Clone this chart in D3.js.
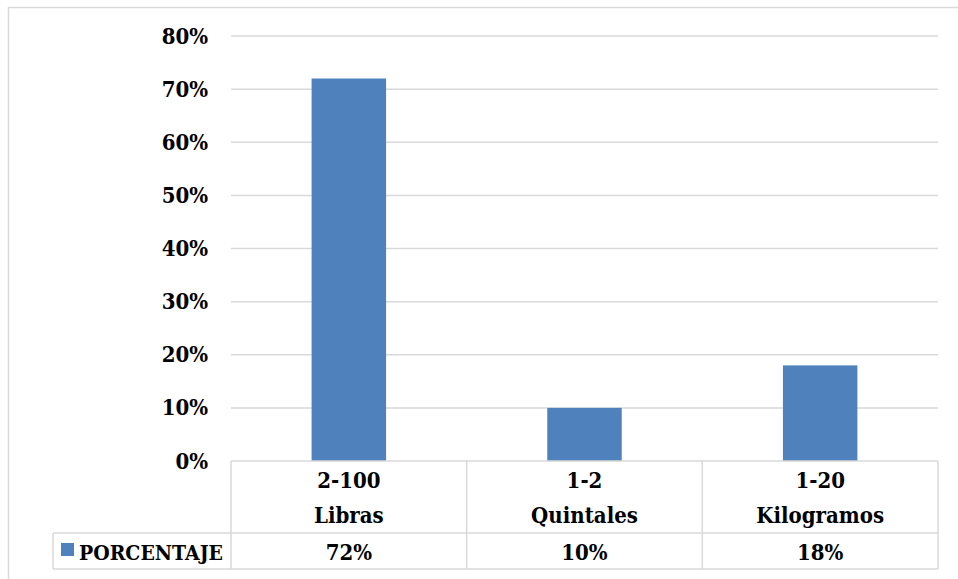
<!DOCTYPE html>
<html><head><meta charset="utf-8">
<script src="https://cdn.jsdelivr.net/npm/d3@7"></script>
<style>html,body{margin:0;padding:0;background:#fff;}svg{display:block;}</style>
</head><body>
<svg id="c" width="958" height="579"></svg>
<script>
const categories = [["2-100","Libras"],["1-2","Quintales"],["1-20","Kilogramos"]];
const values = [0.72, 0.10, 0.18];
const valueLabels = ["72%","10%","18%"];
const yTicks = [0,0.1,0.2,0.3,0.4,0.5,0.6,0.7,0.8];
const seriesName = "PORCENTAJE";

(function(){
const svg = d3.select("#c");
const FONT = "'DejaVu Serif Condensed', 'DejaVu Serif', serif";
const FS = 22;
const grid = "#d9d9d9";
const barColor = "#4f81bd";
const pL = 231, pR = 938, pT = 36, pB = 461;
const tableMid = 533, tableBottom = 569, legendLeft = 53;

// chart border
svg.append("rect").attr("x",8.5).attr("y",7.5).attr("width",960).attr("height",600)
  .attr("fill","none").attr("stroke",grid).attr("stroke-width",1.5);

const x = d3.scaleBand().domain(d3.range(categories.length)).range([pL,pR]).paddingInner(0.684).paddingOuter(0.342);
const xCell = d3.scaleBand().domain(d3.range(categories.length)).range([pL,pR]);
const y = d3.scaleLinear().domain([0,0.8]).range([pB,pT]);

// gridlines
svg.append("g").selectAll("line").data(yTicks.filter(t=>t>0)).join("line")
  .attr("x1",pL).attr("x2",pR).attr("y1",d=>y(d)).attr("y2",d=>y(d))
  .attr("stroke",grid).attr("stroke-width",1.5);

// y axis
const yAxis = d3.axisLeft(y).tickValues(yTicks).tickFormat(d3.format(".0%")).tickSize(0).tickPadding(23);
const ya = svg.append("g").attr("transform",`translate(${pL},0)`).call(yAxis);
ya.select(".domain").remove();
ya.selectAll("text").attr("font-family",FONT).attr("font-weight","bold").attr("font-size",FS).attr("fill","#000");

// bars
svg.append("g").selectAll("rect").data(values).join("rect")
  .attr("x",(d,i)=>x(i)).attr("width",x.bandwidth())
  .attr("y",d=>y(d)).attr("height",d=>y(0)-y(d)).attr("fill",barColor);

// data table
const t = svg.append("g").attr("stroke",grid).attr("stroke-width",1.5);
t.append("line").attr("x1",pL).attr("x2",pR).attr("y1",pB).attr("y2",pB);
t.append("line").attr("x1",legendLeft).attr("x2",pR).attr("y1",tableMid).attr("y2",tableMid);
t.append("line").attr("x1",legendLeft).attr("x2",pR).attr("y1",tableBottom).attr("y2",tableBottom);
t.append("line").attr("x1",legendLeft).attr("x2",legendLeft).attr("y1",tableMid).attr("y2",tableBottom);
const vx = xCell.domain().map(i=>xCell(i)).concat([pR]);
t.selectAll("line.v").data(vx).join("line").attr("class","v")
  .attr("x1",d=>d).attr("x2",d=>d).attr("y1",pB).attr("y2",tableBottom);

const cx = i => xCell(i)+xCell.bandwidth()/2;
const hdr = svg.append("g").attr("font-family",FONT).attr("font-weight","bold").attr("font-size",FS)
  .attr("text-anchor","middle").attr("fill","#000");
hdr.selectAll("text.l1").data(categories).join("text").attr("class","l1")
  .attr("x",(d,i)=>cx(i)).attr("y",488).text(d=>d[0]);
hdr.selectAll("text.l2").data(categories).join("text").attr("class","l2")
  .attr("x",(d,i)=>cx(i)).attr("y",523).text(d=>d[1]);
hdr.selectAll("text.v").data(valueLabels).join("text").attr("class","v")
  .attr("x",(d,i)=>cx(i)).attr("y",560).text(d=>d);

// legend key
svg.append("rect").attr("x",61).attr("y",543).attr("width",13).attr("height",13).attr("fill",barColor);
svg.append("text").attr("x",79).attr("y",560).attr("font-family",FONT).attr("font-weight","bold")
  .attr("font-size",FS-1).attr("fill","#000").text(seriesName);
})();
</script>
</body></html>
